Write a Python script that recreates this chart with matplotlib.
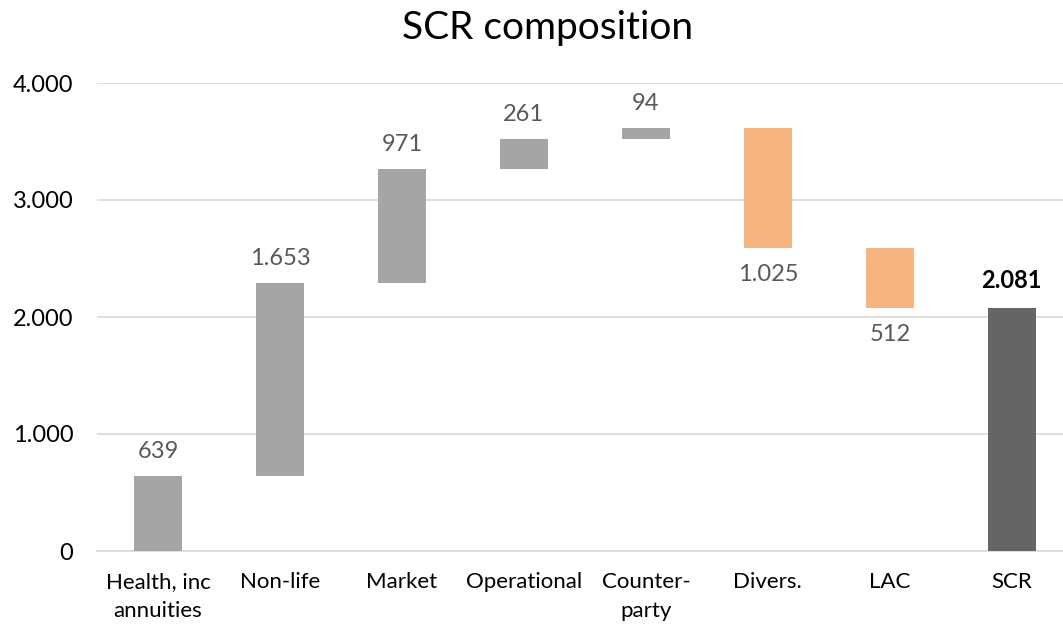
import numpy as np
import matplotlib
matplotlib.use('Agg')
import matplotlib.pyplot as plt

plt.rcParams['font.family'] = ['Lato', 'DejaVu Sans']

categories = ['Health, inc\nannuities', 'Non-life', 'Market', 'Operational',
              'Counter-\nparty', 'Divers.', 'LAC', 'SCR']
values = [639, 1653, 971, 261, 94, -1025, -512, 2081]
kinds = ['up', 'up', 'up', 'up', 'up', 'down', 'down', 'total']

colors = {'up': '#A5A5A5', 'down': '#F8B47E', 'total': '#656565'}

def fmt(v):
    return '{:,}'.format(abs(v)).replace(',', '.')

fig = plt.figure(figsize=(10.63, 6.25), dpi=100)
ax = fig.add_axes([0.0913, 0.1184, 0.9087, 0.7488])

x = np.arange(len(categories))
running = 0
for i, (v, k) in enumerate(zip(values, kinds)):
    if k == 'total':
        bottom, height = 0, v
    else:
        bottom = running if v > 0 else running + v
        height = abs(v)
        running += v
    ax.bar(x[i], height, bottom=bottom, width=0.39, color=colors[k], zorder=3)
    if k == 'total':
        ax.annotate(fmt(v), (x[i], bottom + height), xytext=(0, 11),
                    textcoords='offset points', ha='center', va='bottom',
                    fontsize=17, fontweight='bold', color='black')
    elif v > 0:
        ax.annotate(fmt(v), (x[i], bottom + height), xytext=(0, 10),
                    textcoords='offset points', ha='center', va='bottom',
                    fontsize=17, color='#595959')
    else:
        ax.annotate(fmt(v), (x[i], bottom), xytext=(0, -12),
                    textcoords='offset points', ha='center', va='top',
                    fontsize=17, color='#595959')

ax.set_xlim(-0.5, 7.42)
ax.set_ylim(0, 4000)
ax.set_yticks([0, 1000, 2000, 3000, 4000])
ax.set_yticklabels([fmt(t) for t in [0, 1000, 2000, 3000, 4000]], fontsize=17)
ax.set_xticks(x)
ax.set_xticklabels(categories, fontsize=16, linespacing=1.6)
ax.tick_params(axis='x', length=0, pad=15)
ax.tick_params(axis='y', length=0, pad=17)
ax.grid(axis='y', color='#D9D9D9', linewidth=1.2, zorder=0)
for s in ['top', 'right', 'left']:
    ax.spines[s].set_visible(False)
ax.spines['bottom'].set_color('#D9D9D9')
ax.spines['bottom'].set_linewidth(1.2)

fig.text(0.515, 0.955, 'SCR composition', ha='center', va='center', fontsize=28)

plt.savefig('out.png', dpi=100)
